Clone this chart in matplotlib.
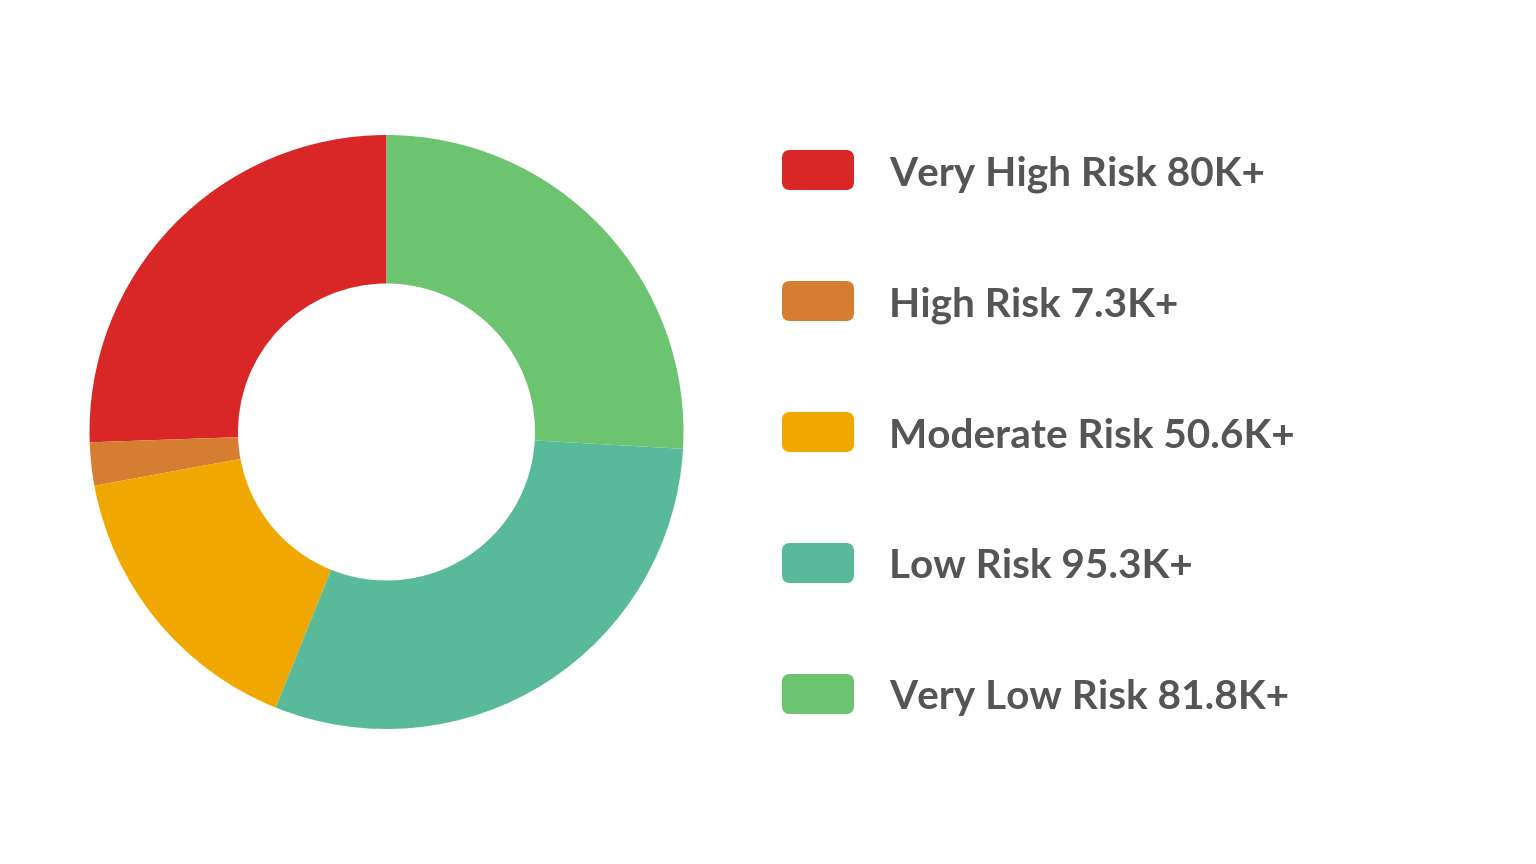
import matplotlib
matplotlib.use("Agg")
import matplotlib.pyplot as plt
from matplotlib.patches import FancyBboxPatch

categories = ["Very High Risk", "High Risk", "Moderate Risk", "Low Risk", "Very Low Risk"]
# slice sizes (thousands); labels are the rounded legend texts
values = [80.7, 7.4, 50.6, 95.3, 81.8]
value_labels = ["80K+", "7.3K+", "50.6K+", "95.3K+", "81.8K+"]
colors = ["#D92727", "#D57D31", "#F0A800", "#58BA9B", "#6DC470"]

W, H = 1536, 864
fig = plt.figure(figsize=(W / 100, H / 100), dpi=100)
fig.patch.set_facecolor("white")

cx, cy, r = 386.5, 432, 297
ax = fig.add_axes([(cx - r) / W, (H - cy - r) / H, 2 * r / W, 2 * r / H])
ax.pie(values, colors=colors, startangle=90, counterclock=True,
       radius=1.0, wedgeprops=dict(width=0.5, edgecolor="none", linewidth=0))
ax.set_xlim(-1, 1)
ax.set_ylim(-1, 1)
ax.set_aspect("equal")
ax.axis("off")

lax = fig.add_axes([0, 0, 1, 1])
lax.set_xlim(0, W)
lax.set_ylim(H, 0)
lax.axis("off")

ys = [170, 301, 432, 563, 694]
for i, (cat, lab, col) in enumerate(zip(categories, value_labels, colors)):
    y = ys[i]
    box = FancyBboxPatch((782 + 8, y - 20 + 8), 72 - 16, 40 - 16,
                         boxstyle="round,pad=8", facecolor=col, edgecolor="none")
    lax.add_patch(box)
    lax.text(889, y + 4, f"{cat} {lab}", fontsize=29.2, fontfamily="Lato",
             fontweight="bold", color="#555555", va="center", ha="left")

fig.savefig("out.png", dpi=100, facecolor="white")
